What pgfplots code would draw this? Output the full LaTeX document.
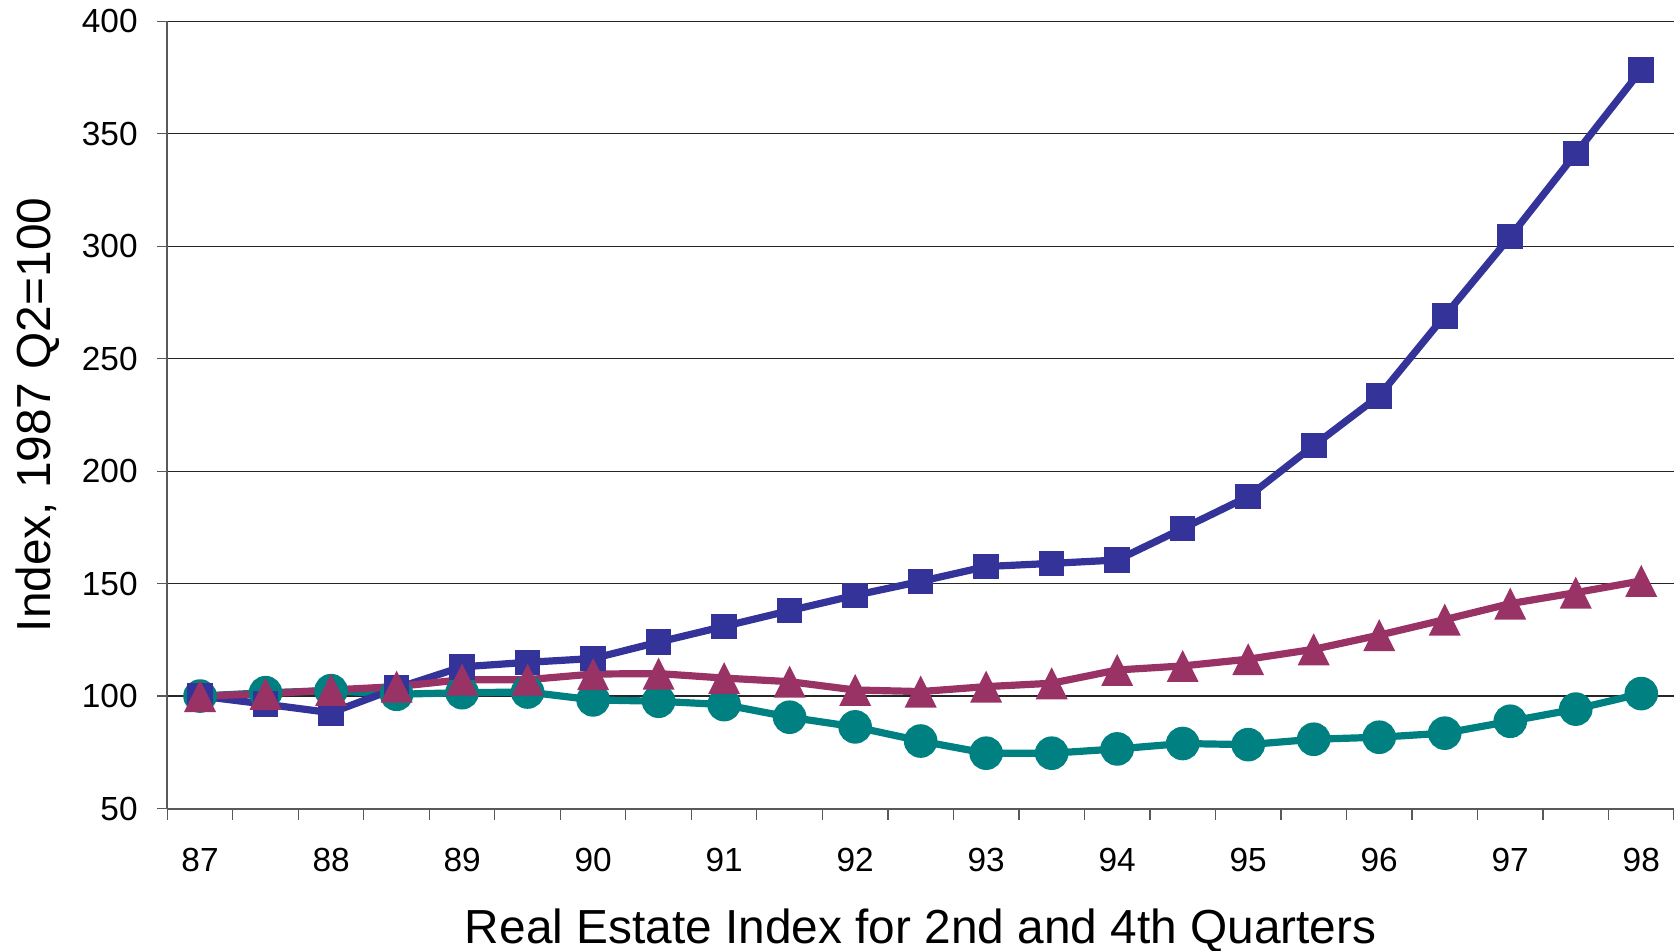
\documentclass[border=0pt]{standalone}
\usepackage{pgfplots}
\pgfplotsset{compat=1.18}
\usepackage{fontspec}
\setmainfont{Liberation Sans}

\definecolor{xlblue}{RGB}{51,51,153}
\definecolor{xlplum}{RGB}{153,51,102}
\definecolor{xlteal}{RGB}{0,128,128}

% isosceles triangle as wide as it is tall, centred on the point
\pgfdeclareplotmark{eqtri}{%
  \pgfpathmoveto{\pgfqpoint{0pt}{\pgfplotmarksize}}%
  \pgfpathlineto{\pgfqpoint{\pgfplotmarksize}{-\pgfplotmarksize}}%
  \pgfpathlineto{\pgfqpoint{-\pgfplotmarksize}{-\pgfplotmarksize}}%
  \pgfpathclose
  \pgfusepathqfill}

% half-year index (0 = 1987 Q2, 1 = 1987 Q4, ...)
\begin{document}
\begin{tikzpicture}
\useasboundingbox (0,0) rectangle (837pt,475pt);
\begin{axis}[
  at={(83.65pt,70.75pt)}, anchor=south west,
  width=753.35pt, height=393.55pt, scale only axis,
  xmin=-0.5, xmax=22.5, ymin=50, ymax=400,
  axis x line*=bottom, axis y line*=left,
  axis line style={-, line width=1pt, color=black!65},
  ytick={50,100,...,400},
  ymajorgrids, grid style={line width=0.6pt, color=black!85},
  xtick={0,2,...,22},
  xticklabels={87,88,89,90,91,92,93,94,95,96,97,98},
  minor xtick={-0.5,0.5,...,22.5},
  tick align=outside,
  major tick length=5pt, minor tick length=5.5pt,
  every tick/.style={line width=0.6pt, color=black!65},
  major x tick style={draw=none},
  tick label style={font=\fontsize{16.7}{20}\selectfont, inner sep=0pt},
  /pgf/number format/assume math mode=true,
  yticklabel style={anchor=east, xshift=-9.65pt},
  xticklabel style={anchor=base, yshift=-26.3pt},
  xlabel={Real Estate Index for 2nd and 4th Quarters},
  ylabel={Index, 1987 Q2=100},
  every axis x label/.style={at={(axis description cs:0.5,-0.17088)}, anchor=base,
    font=\fontsize{23.9}{28}\selectfont},
  every axis y label/.style={at={(axis description cs:-0.0773,0.5)}, rotate=90, anchor=base,
    font=\fontsize{23.9}{28}\selectfont},
]
\addplot[color=xlteal, line width=3.6pt, mark=*, mark size=6.6pt, mark options={draw=none, fill=xlteal}]
  table {
x y
0 100
1 101.5
2 102.4
3 100.8
4 101.5
5 101.8
6 98.3
7 97.7
8 96.2
9 90.6
10 86.3
11 80
12 74.6
13 74.6
14 76.5
15 78.9
16 78.4
17 80.8
18 81.7
19 83.5
20 88.8
21 94.2
22 101.1
};
\addplot[color=xlblue, line width=3.6pt, mark=square*, mark size=4.6pt, mark options={draw=none, fill=xlblue}]
  table {
x y
0 100
1 96.4
2 92.6
3 103.5
4 113
5 115
6 116.7
7 124
8 131
9 138
10 144.8
11 151
12 157.6
13 159
14 160.5
15 174.5
16 188.7
17 211.4
18 233.5
19 269.1
20 304.3
21 341.3
22 378.4
};
\addplot[color=xlplum, line width=3.6pt, mark=eqtri, mark size=8pt, mark options={draw=none, fill=xlplum}]
  table {
x y
0 100
1 101
2 102.7
3 104.2
4 107.3
5 107.3
6 109.8
7 110
8 108
9 106.4
10 102.7
11 102
12 104.2
13 105.7
14 111.6
15 113.4
16 116.4
17 120.8
18 127.1
19 134
20 141.1
21 146
22 151.2
};
\end{axis}
\end{tikzpicture}
\end{document}
